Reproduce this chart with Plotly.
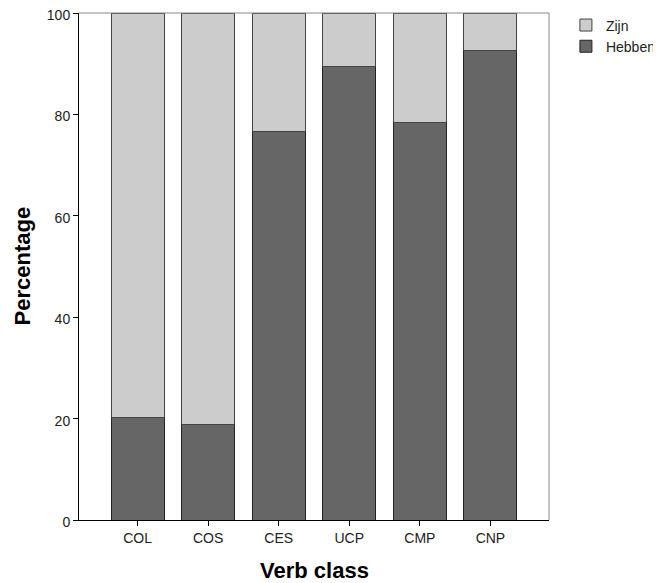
import plotly.graph_objects as go

categories = ["COL", "COS", "CES", "UCP", "CMP", "CNP"]
hebben = [20.3, 18.9, 76.7, 89.4, 78.4, 92.7]
zijn = [100 - v for v in hebben]
y_ticks = [0, 20, 40, 60, 80, 100]

fig = go.Figure()
fig.add_trace(go.Bar(x=categories, y=hebben, name="Hebben",
                     marker=dict(color="#666666", line=dict(color="#222222", width=1)),
                     width=0.75))
fig.add_trace(go.Bar(x=categories, y=zijn, name="Zijn",
                     marker=dict(color="#cccccc", line=dict(color="#444444", width=1)),
                     width=0.75))

# page body adds an 8px offset; size the figure to fit the window
fig.update_layout(
    barmode="stack",
    width=653, height=575,
    margin=dict(l=71, r=112, t=5, b=63, autoexpand=False),
    plot_bgcolor="white", paper_bgcolor="white",
    font=dict(family="Arial, Liberation Sans, sans-serif", size=14, color="#222222"),
    showlegend=True,
    legend=dict(x=1.036, y=1.007, xanchor="left", yanchor="top", traceorder="reversed",
                font=dict(size=14, color="#222222"), bgcolor="rgba(0,0,0,0)",
                itemwidth=30, tracegroupgap=0),
    xaxis=dict(type="category", range=[-0.83, 5.83], showline=True, linecolor="black",
               linewidth=1, ticks="outside", ticklen=5, tickcolor="black",
               showgrid=False, zeroline=False, automargin=False,
               tickfont=dict(size=14, color="#222222")),
    yaxis=dict(range=[0, 100], tickvals=y_ticks, showline=True, linecolor="black",
               linewidth=1, ticks="outside", ticklen=5, tickcolor="black",
               showgrid=False, zeroline=False, automargin=False,
               ticklabeloverflow="allow", ticklabelshift=2,
               tickfont=dict(size=14, color="#222222")),
    shapes=[
        dict(type="line", xref="paper", yref="paper", x0=0, x1=1, y0=1, y1=1,
             line=dict(color="#888888", width=1)),
        dict(type="line", xref="paper", yref="paper", x0=1, x1=1, y0=0, y1=1,
             line=dict(color="#888888", width=1)),
    ],
    annotations=[
        dict(text="<b>Verb class</b>", xref="paper", yref="paper", x=0.5, y=-50/507,
             xanchor="center", yanchor="middle", showarrow=False,
             font=dict(size=22, color="black")),
        dict(text="<b>Percentage</b>", xref="paper", yref="paper", x=-57/470, y=0.5,
             xanchor="center", yanchor="middle", showarrow=False, textangle=-90,
             font=dict(size=22, color="black")),
    ],
)

fig.write_html("out.html")
